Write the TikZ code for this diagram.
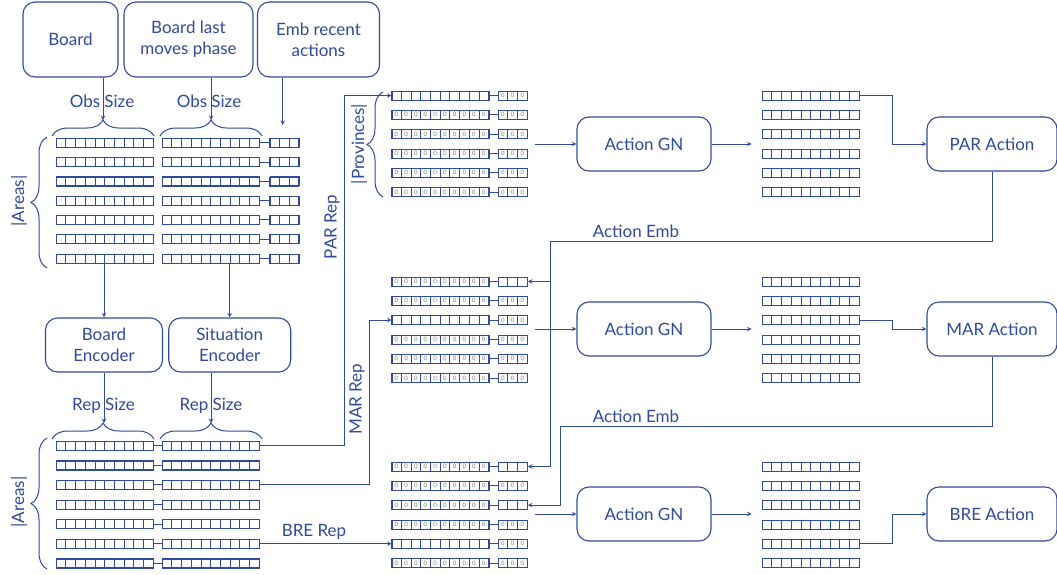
\documentclass[tikz,border=0pt]{standalone}
\usepackage{fontspec}
\setmainfont{Lato}
\usetikzlibrary{calc, decorations.pathreplacing}

\definecolor{dmblau}{RGB}{48,74,156}

% Zeile aus Zellen: Name, Position (west), Anzahl, Inhalt
\newcommand{\zellen}[4]{%
  \node[zeile, minimum width=#3*9.7pt, anchor=west] (#1) at #2 {};
  \foreach \k in {1,...,#3}
    \node[zelle] at ($(#1.west)+(\k*9.7-4.85,0)$) {#4};
}
\def\leer{}

\begin{document}
\begin{tikzpicture}[
    x=1pt, y=-1pt,
    font=\fontsize{17}{21}\selectfont,
    % abgerundete Kaesten
    kasten/.style={draw=dmblau, line width=1.1pt, rounded corners=12pt, align=center,
                   text=dmblau, inner sep=0pt},
    % Zellen der Tensoren
    zeile/.style={draw=dmblau, line width=0.8pt, minimum height=9pt, inner sep=0pt},
    zelle/.style={draw=dmblau, line width=0.6pt, minimum width=9.7pt, minimum height=9pt,
                  inner sep=0pt, text=gray, font=\fontsize{6}{6}\selectfont},
    % Verbindungen
    linie/.style={draw=dmblau, line width=1pt},
    pfeil/.style={-stealth, draw=dmblau, line width=1pt},
    klammer/.style={decorate, decoration={brace, amplitude=16pt}, draw=dmblau, line width=1pt},
    beschr/.style={text=dmblau, inner sep=1pt}
]

\fill[white] (0,0) rectangle (1057,574);
\useasboundingbox (0,0) rectangle (1057,574);

% --- EINGAENGE ---
\node[kasten, minimum width=95pt, minimum height=75pt] (board) at (70.5,39.5) {Board};
\node[kasten, minimum width=129pt, minimum height=75pt] (lastm) at (188.5,39.5) {Board last\\moves phase};
\node[kasten, minimum width=122pt, minimum height=75pt] (embra) at (318.5,39.5) {Emb recent\\actions};

% --- BEOBACHTUNG ---
\foreach \r in {1,...,7} {
  \pgfmathsetmacro\yy{142.7+(\r-1)*19.3}
  \zellen{obsA\r}{(56,\yy)}{10}{}
  \zellen{obsB\r}{(162,\yy)}{10}{}
  \zellen{emb\r}{(269.5,\yy)}{3}{}
  \draw[linie] (obsB\r.east) -- (emb\r.west);
}
\draw[klammer] (52,136) -- (154,136);
\draw[klammer] (160,136) -- (262,136);
\coordinate (obsTipA) at (103,120);
\coordinate (obsTipB) at (211,120);
\draw[klammer] (47,268) -- (47,137);
\node[beschr, rotate=90] (areasO) at (19,201) {|Areas|};

\node[beschr] (obsSizeA) at (102,101) {Obs Size};
\node[beschr] (obsSizeB) at (209,101) {Obs Size};
\draw[pfeil] (board.south -| obsTipA) -- (obsTipA);
\draw[pfeil] (lastm.south -| obsTipB) -- (obsTipB);
\draw[pfeil] (embra.south -| 282.7,0) -- (282.7,125);

% --- ENCODER ---
\node[kasten, minimum width=117pt, minimum height=54pt] (benc) at (104,345) {Board\\Encoder};
\node[kasten, minimum width=122pt, minimum height=54pt] (senc) at (229.7,345) {Situation\\Encoder};
\draw[pfeil] (obsA7.south -| benc.north) -- (benc.north);
\draw[pfeil] (obsB7.south -| senc.north) -- (senc.north);

% --- REPRAESENTATION ---
\foreach \r in {1,...,7} {
  \pgfmathsetmacro\yy{445.7+(\r-1)*19.6}
  \zellen{repA\r}{(56,\yy)}{10}{}
  \zellen{repB\r}{(162,\yy)}{10}{}
  \draw[linie] (repA\r.east) -- (repB\r.west);
}
\draw[klammer] (52,439) -- (154,439);
\draw[klammer] (160,439) -- (262,439);
\coordinate (repTipA) at (104,423);
\coordinate (repTipB) at (211,423);
\draw[klammer] (47,569) -- (47,438);
\node[beschr, rotate=90] (areasU) at (19,502) {|Areas|};

\node[beschr] (repSizeA) at (103.5,406) {Rep Size};
\node[beschr] (repSizeB) at (211,406) {Rep Size};
\draw[pfeil] (benc.south -| repTipA) -- (repTipA);
\draw[pfeil] (senc.south -| repTipB) -- (repTipB);

% --- PAR ---
\foreach \r/\pz/\ez in {1/\leer/0, 2/0/0, 3/0/0, 4/0/0, 5/0/0, 6/0/0} {
  \pgfmathsetmacro\yy{95.5+(\r-1)*19.3}
  \zellen{parP\r}{(391.5,\yy)}{10}{\pz}
  \zellen{parE\r}{(498,\yy)}{3}{\ez}
  \draw[linie] (parP\r.east) -- (parE\r.west);
  \zellen{parO\r}{(762,\yy)}{10}{}
}
\draw[klammer] (383,197) -- (383,92);
\node[beschr, rotate=90] (prov) at (359,144) {|Provinces|};

% --- MAR ---
\foreach \r/\pz/\ez in {1/0/\leer, 2/0/0, 3/\leer/0, 4/0/0, 5/0/0, 6/0/0} {
  \pgfmathsetmacro\yy{281.5+(\r-1)*19.3}
  \zellen{marP\r}{(391.5,\yy)}{10}{\pz}
  \zellen{marE\r}{(498,\yy)}{3}{\ez}
  \draw[linie] (marP\r.east) -- (marE\r.west);
  \zellen{marO\r}{(762,\yy)}{10}{}
}

% --- BRE ---
\foreach \r/\pz/\ez in {1/0/\leer, 2/0/0, 3/0/\leer, 4/0/0, 5/\leer/0, 6/0/0} {
  \pgfmathsetmacro\yy{466.5+(\r-1)*19.3}
  \zellen{breP\r}{(391.5,\yy)}{10}{\pz}
  \zellen{breE\r}{(498,\yy)}{3}{\ez}
  \draw[linie] (breP\r.east) -- (breE\r.west);
  \zellen{breO\r}{(762,\yy)}{10}{}
}

% Rep-Leitungen
\coordinate (parRepX) at (344,0);
\coordinate (marRepX) at (369,0);
\draw[pfeil] (repB1.east) -- (repB1.east -| parRepX) |- (parP1.west);
\draw[pfeil] (repB3.east) -- (repB3.east -| marRepX) |- (marP3.west);
\draw[pfeil] (repB6.east) -- (repB6.east -| breP5.west);
\node[beschr, rotate=90] (parRep) at (332,227) {PAR Rep};
\node[beschr, rotate=90] (marRep) at (357,399) {MAR Rep};
\node[beschr] (breRep) at (314,532) {BRE Rep};

% --- ACTION GN ---
\node[kasten, minimum width=134pt, minimum height=54pt] (gn1) at (644,144) {Action GN};
\node[kasten, minimum width=134pt, minimum height=54pt] (gn2) at (644,329) {Action GN};
\node[kasten, minimum width=134pt, minimum height=54pt] (gn3) at (644,514) {Action GN};
\foreach \g in {1,2,3} {
  \draw[pfeil] ([xshift=-41pt]gn\g.west) -- (gn\g.west);
  \draw[pfeil] (gn\g.east) -- ++(40,0);
}

% --- AKTIONEN ---
\node[kasten, minimum width=130pt, minimum height=54pt] (parAct) at (992,144) {PAR Action};
\node[kasten, minimum width=130pt, minimum height=54pt] (marAct) at (992,329) {MAR Action};
\node[kasten, minimum width=130pt, minimum height=54pt] (breAct) at (992,514) {BRE Action};
\coordinate (knickX) at (892,0);
\draw[pfeil] (parO1.east) -- (parO1.east -| knickX) |- (parAct.west);
\draw[pfeil] (marO3.east) -- (marO3.east -| knickX) |- (marAct.west);
\draw[pfeil] (breO5.east) -- (breO5.east -| knickX) |- (breAct.west);

% Action-Emb Rueckfuehrung
\coordinate (embJ1) at (550,241);
\coordinate (embJ2) at (560,426);
\draw[pfeil] (parAct.south) |- (embJ1) |- (marE1.east);
\draw[pfeil] (embJ1) |- (breE1.east);
\draw[pfeil] (marAct.south) |- (embJ2) |- (breE3.east);
\node[beschr] (embL1) at (636,231) {Action Emb};
\node[beschr] (embL2) at (636,416) {Action Emb};

\end{tikzpicture}
\end{document}
